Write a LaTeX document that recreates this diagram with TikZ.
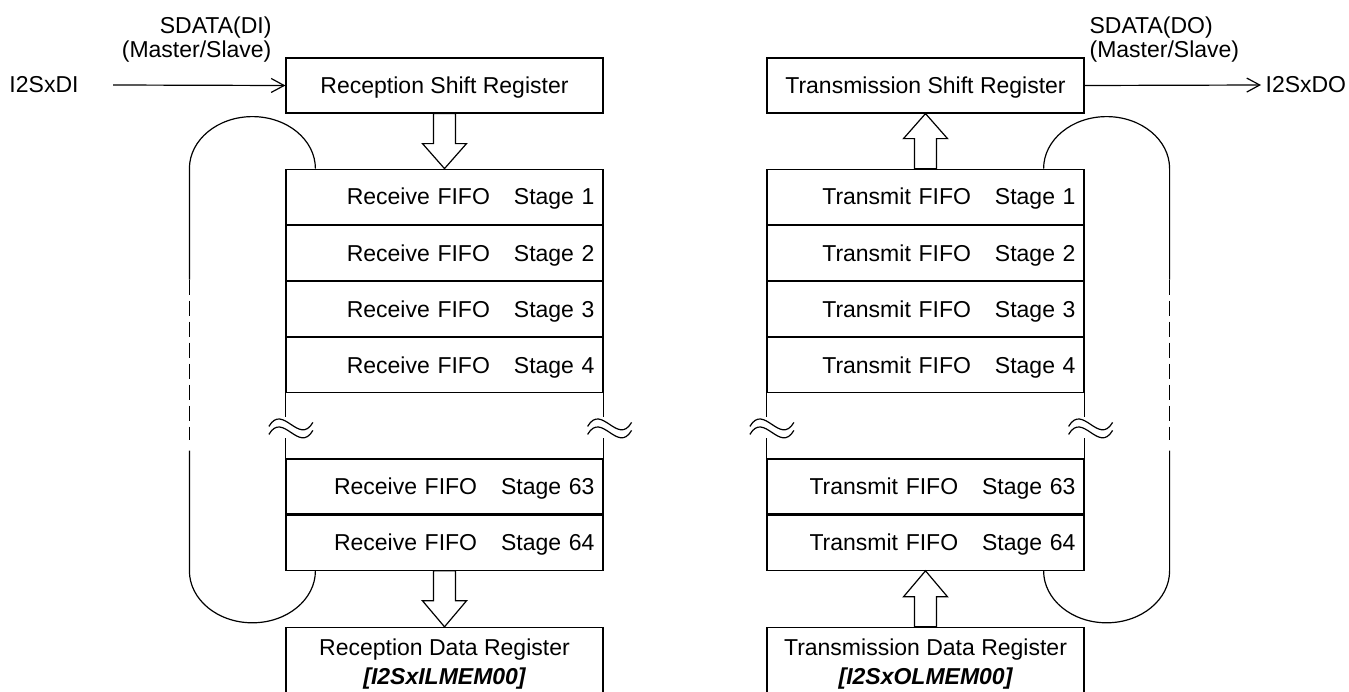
\documentclass[tikz,border=0pt]{standalone}
\usepackage{fontspec}
\setmainfont{Liberation Sans}
\usetikzlibrary{arrows.meta, positioning, calc}

\begin{document}
\begin{tikzpicture}[
  x=0.5pt, y=-0.5pt,
  font=\fontsize{11.5pt}{13.5pt}\selectfont,
  line width=0.6pt,
  node distance=0pt,
  regbox/.style={rectangle, draw, minimum width=158.5pt,
                 minimum height=27.5pt, inner sep=0pt,
                 text height=8.2pt, text depth=0pt},
  fifobox/.style={regbox, text width=150pt, align=right, inner xsep=4.25pt},
  databox/.style={rectangle, draw, minimum width=158.5pt,
                  minimum height=37pt, inner sep=0pt, align=center},
  portlbl/.style={inner sep=0pt, font=\fontsize{11.5pt}{12pt}\selectfont},
  sig/.style={-{Straight Barb[length=6.5pt,width=7pt]}},
  hollow/.style={draw, fill=white, line join=miter},
  loopdash/.style={dash pattern=on 7.5pt off 3pt},
  pics/brk/.style={code={
    \draw (-22,-2) .. controls (-8,-26) and (8,18) .. (22,-6);
    \draw (-22,6) .. controls (-8,-18) and (8,26) .. (22,2);
  }},
]
\useasboundingbox (0,0) rectangle (1349,691);
\clip (0,0) rectangle (1349,691);

% reception side
\node[regbox] (rsr) at (444.5,85.5) {Reception Shift Register};
\node[fifobox, below=27.5pt of rsr] (rx1) {Receive FIFO\hspace{12pt}Stage 1};
\node[fifobox, below=of rx1] (rx2) {Receive FIFO\hspace{12pt}Stage 2};
\node[fifobox, below=of rx2] (rx3) {Receive FIFO\hspace{12pt}Stage 3};
\node[fifobox, below=of rx3] (rx4) {Receive FIFO\hspace{12pt}Stage 4};
\node[fifobox, below=32.5pt of rx4] (rx63) {Receive FIFO\hspace{12pt}Stage 63};
\node[fifobox, below=of rx63] (rx64) {Receive FIFO\hspace{12pt}Stage 64};
\node[databox, below=28pt of rx64] (rdr)
  {Reception Data Register\\[1pt]{\bfseries\itshape [I2SxILMEM00]}};

\node[portlbl] (din) at (44,85) {I2SxDI};
\node[portlbl, align=right, anchor=north east] (dilbl) at (272,16)
  {SDATA(DI)\\(Master/Slave)};
\draw[sig] ($(din.east)+(34,0)$) -- (rsr.west);

\draw (rx4.south west) -- ++(0,24) (rx63.north west) -- ++(0,-20);
\draw (rx4.south east) -- ++(0,24) (rx63.north east) -- ++(0,-20);
\pic at ($(rx4.south west)+(5.5,35)$) {brk};
\pic at ($(rx4.south east)+(6,35)$) {brk};

\draw[hollow] ($(rsr.south)+(-11,0)$) -- ++(0,30) -- ++(-11,0) -- (rx1.north)
  -- ++(22,-25) -- ++(-11,0) -- ($(rsr.south)+(11,0)$) -- cycle;
\draw[hollow] ($(rx64.south)+(-11,0)$) -- ++(0,30) -- ++(-11,0) -- (rdr.north)
  -- ++(22,-26) -- ++(-11,0) -- ($(rx64.south)+(11,0)$) -- cycle;

% loop
\draw (rx1.north west) ++(30,0)
  arc[start angle=0, end angle=-180, x radius=63, y radius=52]
  -- ++(0,111) coordinate (ldtop);
\draw[loopdash] (ldtop) -- ++(0,160);
\draw ($(ldtop)+(0,171)$) -- (ldtop |- rx64.south)
  arc[start angle=180, end angle=0, x radius=63, y radius=52];

% transmission side
\node[regbox] (tsr) at (925.5,85.5) {Transmission Shift Register};
\node[fifobox, below=27.5pt of tsr] (tx1) {Transmit FIFO\hspace{12pt}Stage 1};
\node[fifobox, below=of tx1] (tx2) {Transmit FIFO\hspace{12pt}Stage 2};
\node[fifobox, below=of tx2] (tx3) {Transmit FIFO\hspace{12pt}Stage 3};
\node[fifobox, below=of tx3] (tx4) {Transmit FIFO\hspace{12pt}Stage 4};
\node[fifobox, below=32.5pt of tx4] (tx63) {Transmit FIFO\hspace{12pt}Stage 63};
\node[fifobox, below=of tx63] (tx64) {Transmit FIFO\hspace{12pt}Stage 64};
\node[databox, below=28pt of tx64] (tdr)
  {Transmission Data Register\\[1pt]{\bfseries\itshape [I2SxOLMEM00]}};

\node[portlbl, anchor=west] (dout) at (1265,85) {I2SxDO};
\node[portlbl, align=left, anchor=north west] (dolbl) at (1089,16)
  {SDATA(DO)\\(Master/Slave)};
\draw[sig] (tsr.east) -- ($(dout.west)+(-4,0)$);

\draw (tx4.south west) -- ++(0,24) (tx63.north west) -- ++(0,-20);
\draw (tx4.south east) -- ++(0,24) (tx63.north east) -- ++(0,-20);
\pic at ($(tx4.south west)+(5.5,35)$) {brk};
\pic at ($(tx4.south east)+(6,35)$) {brk};

\draw[hollow] ($(tx1.north)+(-11,0)$) -- ++(0,-30) -- ++(-11,0) -- (tsr.south)
  -- ++(22,25) -- ++(-11,0) -- ($(tx1.north)+(11,0)$) -- cycle;
\draw[hollow] ($(tdr.north)+(-11,0)$) -- ++(0,-30) -- ++(-11,0) -- (tx64.south)
  -- ++(22,26) -- ++(-11,0) -- ($(tdr.north)+(11,0)$) -- cycle;

% loop
\draw (tx1.north east) ++(-41,0)
  arc[start angle=180, end angle=360, x radius=63, y radius=52]
  -- ++(0,111) coordinate (rdtop);
\draw[loopdash] (rdtop) -- ++(0,160);
\draw ($(rdtop)+(0,171)$) -- (rdtop |- tx64.south)
  arc[start angle=0, end angle=180, x radius=63, y radius=52];

\end{tikzpicture}
\end{document}
